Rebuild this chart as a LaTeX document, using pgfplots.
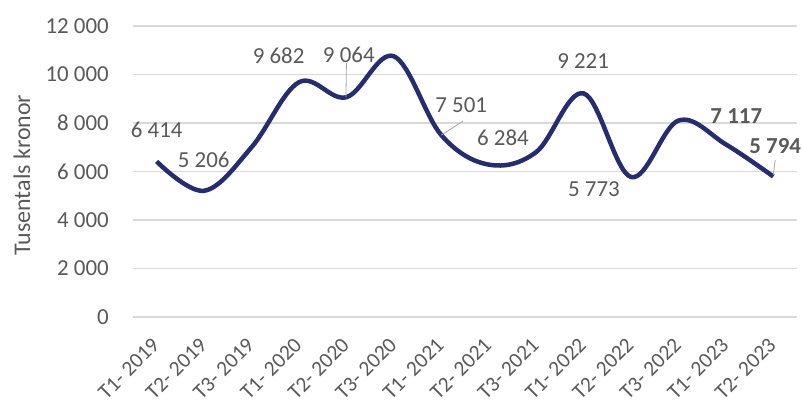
\documentclass[border=0pt]{standalone}
\usepackage{pgfplots}
\pgfplotsset{compat=1.18}
\usepackage{fontspec}
\setmainfont{Carlito}
\definecolor{txt}{RGB}{89,89,89}
\definecolor{gridcol}{RGB}{217,217,217}
\definecolor{navy}{RGB}{38,45,110}
\begin{document}
\begin{tikzpicture}[x=1bp,y=1bp]
\path[use as bounding box] (-133bp,-87bp) rectangle (670bp,317bp);
\begin{axis}[
  scale only axis,
  width=664bp, height=291bp,
  xmin=-0.5, xmax=13.5,
  ymin=0, ymax=12000,
  axis line style={draw=none},
  tick style={draw=none},
  ymajorgrids=true, xmajorgrids=false,
  major grid style={draw=gridcol, line width=1.3bp},
  scaled y ticks=false,
  ytick={0,2000,4000,6000,8000,10000,12000},
  yticklabels={0,2 000,4 000,6 000,8 000,10 000,12 000},
  xtick={0,...,13},
  xticklabels={T1- 2019,T2- 2019,T3- 2019,T1- 2020,T2- 2020,T3- 2020,T1- 2021,T2- 2021,T3- 2021,T1- 2022,T2- 2022,T3- 2022,T1- 2023,T2- 2023},
  yticklabel style={font=\fontsize{23}{26}\selectfont, text=txt, anchor=east, inner sep=0pt, xshift=-24bp},
  xticklabel style={font=\fontsize{21.5}{25}\selectfont, text=txt, rotate=45, anchor=north east, inner sep=0pt, yshift=-9.5bp, xshift=-18bp},
  clip=false,
]
\addplot[navy, line width=4.5bp, smooth, tension=0.6] coordinates {
 (0,6414) (1,5206) (2,7000) (3,9682) (4,9064) (5,10750) (6,7501) (7,6284) (8,6800) (9,9221) (10,5773) (11,8100) (12,7117) (13,5794)
};
\begin{scope}[every node/.style={font=\fontsize{23}{26}\selectfont, text=txt, inner sep=0pt}]
\node at (axis cs:0,7730) {6 414};
\node at (axis cs:0.99,6495) {5 206};
\node at (axis cs:2.57,10784) {9 682};
\node at (axis cs:4.05,10800) {9 064};
\node at (axis cs:6.42,8742) {7 501};
\node at (axis cs:7.30,7381) {6 284};
\node at (axis cs:8.99,10557) {9 221};
\node at (axis cs:9.22,5258) {5 773};
\node at (axis cs:12.22,8289) {\bfseries 7 117};
\node at (axis cs:13.04,7052) {\bfseries 5 794};
\end{scope}
\draw[gray!70, line width=0.8bp] (axis cs:4.0,10474) -- (axis cs:3.99,9064);
\draw[gray!70, line width=0.8bp] (axis cs:6.46,8080) -- (axis cs:6.0,7501);
\draw[gray!70, line width=0.8bp] (axis cs:13.04,6475) -- (axis cs:13.0,5860);
\end{axis}
\node[rotate=90, font=\fontsize{24}{27}\selectfont, text=txt] at (-111bp,142bp) {Tusentals kronor};
\end{tikzpicture}
\end{document}
